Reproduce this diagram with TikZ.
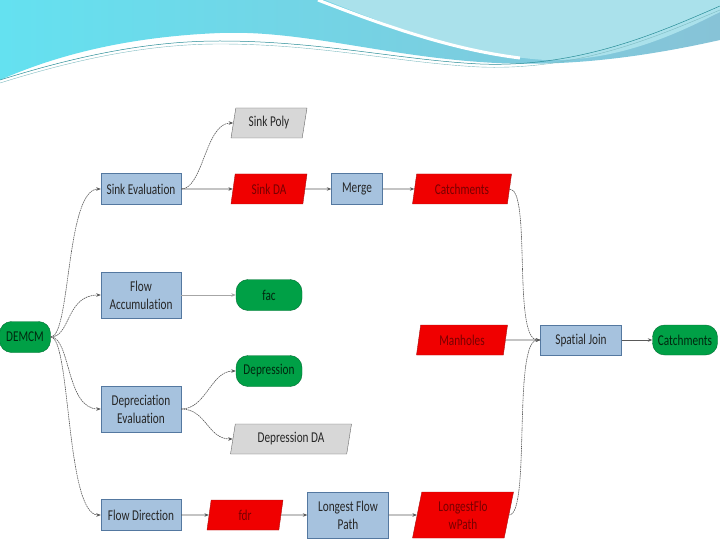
\documentclass[tikz,border=0pt]{standalone}
\usepackage{fontspec}
\setmainfont{Carlito}[FakeStretch=0.75,Ligatures=NoCommon]
\usepackage{tikz}
\usetikzlibrary{arrows.meta,positioning,shapes.geometric}
\definecolor{procfill}{RGB}{166,194,222}
\definecolor{procline}{RGB}{84,120,160}
\definecolor{redfill}{RGB}{240,0,0}
\definecolor{redline}{RGB}{170,20,20}
\definecolor{redtext}{RGB}{120,0,0}
\definecolor{grnfill}{RGB}{0,160,70}
\definecolor{grnline}{RGB}{0,110,50}
\definecolor{grnfont}{RGB}{0,40,15}
\definecolor{grayfill}{RGB}{215,215,215}
\definecolor{wavecyan}{RGB}{100,225,240}
\definecolor{waveblue}{RGB}{135,195,215}
\definecolor{wavelight}{RGB}{170,225,235}
\definecolor{waveline}{RGB}{40,140,150}

\begin{document}
\begin{tikzpicture}[x=1pt,y=-1pt,font=\fontsize{15}{18}\selectfont,
proc/.style={draw=procline,fill=procfill,align=center,minimum width=80pt,minimum height=31pt,inner sep=2pt,text=black!85},
dred/.style={trapezium,trapezium left angle=74,trapezium right angle=106,trapezium stretches body,draw=redline,fill=redfill,text=redtext,align=center,minimum height=30pt,inner sep=2pt},
dgray/.style={dred,draw=black!60,fill=grayfill,text=black!85},
term/.style={draw=grnline,fill=grnfill,text=grnfont,rounded corners=12pt,minimum width=66pt,minimum height=31pt,inner sep=2pt},
arr/.style={-{Stealth[length=4.5pt,width=3.5pt]},draw=black!65,line width=0.6pt},
carr/.style={arr,dash pattern=on 1.6pt off 0.7pt}]
\useasboundingbox (0,0) rectangle (720,540);
% slide background wave
\shade[left color=wavecyan,right color=waveblue] (0,0) -- (720,0) -- (720,40)
  .. controls (640,58) and (560,68) .. (480,62) .. controls (380,55) and (300,30) .. (220,33)
  .. controls (120,37) and (50,58) .. (0,80) -- cycle;
\fill[wavelight] (325,0) .. controls (400,30) and (470,55) .. (545,60)
  .. controls (620,62) and (680,32) .. (720,12) -- (720,0) -- cycle;
\draw[white,line width=3pt] (318,0) .. controls (390,28) and (455,50) .. (520,58);
\draw[waveline,line width=0.5pt] (0,80) .. controls (80,55) and (150,41) .. (220,41)
  .. controls (320,41) and (400,60) .. (480,64) .. controls (580,68) and (660,32) .. (720,6);
\draw[waveline!60,line width=0.4pt] (0,83) .. controls (80,58) and (150,44) .. (220,44)
  .. controls (320,44) and (400,63) .. (480,67) .. controls (580,71) and (660,35) .. (720,10);
% nodes
\node[term,minimum width=51pt] (demcm) at (25,337) {DEMCM};
\node[proc] (sinkeval) at (141,189) {Sink Evaluation};
\node[proc,minimum height=46pt] (flowacc) at (141,295) {Flow\\Accumulation};
\node[proc,minimum height=46pt] (depreval) at (141,409) {Depreciation\\Evaluation};
\node[proc] (flowdir) at (141,515) {Flow Direction};
\node[dgray,minimum width=76pt] (sinkpoly) at (269,123) {Sink Poly};
\node[dred,minimum width=76pt] (sinkda) at (269,189) {Sink DA};
\node[proc,minimum width=51pt] (merge) at (357,189) {Merge};
\node[dred,minimum width=99pt] (catchr) at (462,189) {Catchments};
\node[term] (fac) at (269,295) {fac};
\node[term] (depression) at (269,371) {Depression};
\node[dgray,minimum width=121pt] (deprda) at (291,439) {Depression DA};
\node[dred,minimum width=76pt] (fdr) at (245,515) {fdr};
\node[proc,minimum width=81pt,minimum height=46pt] (lfp) at (348,515) {Longest Flow\\Path};
\node[dred,minimum width=101pt,minimum height=46pt] (lfpr) at (463,515) {LongestFlo\\wPath};
\node[dred,minimum width=91pt] (manholes) at (462,340) {Manholes};
\node[proc,minimum width=81pt,minimum height=30pt] (spjoin) at (581,340) {Spatial Join};
\node[term,minimum width=65pt,minimum height=30pt] (catchg) at (685,340) {Catchments};
% connectors
\foreach \t in {sinkeval,flowacc,depreval,flowdir}
  \draw[carr] (demcm.east) .. controls +(20,0) and +(-35,0) .. (\t.west);
\draw[carr] (sinkeval.east) .. controls +(22,0) and +(-28,0) .. (sinkpoly.west);
\draw[arr] (sinkeval) -- (sinkda);
\draw[arr] (sinkda) -- (merge);
\draw[arr] (merge) -- (catchr);
\draw[arr,draw=black!35] (flowacc) -- (fac);
\draw[carr] (depreval.east) .. controls +(25,0) and +(-25,0) .. (depression.west);
\draw[carr] (depreval.east) .. controls +(25,0) and +(-25,0) .. (deprda.west);
\draw[arr] (flowdir) -- (fdr);
\draw[arr] (fdr) -- (lfp);
\draw[arr] (lfp) -- (lfpr);
\draw[carr] (catchr.east) .. controls +(22,0) and +(-28,0) .. (spjoin.west);
\draw[carr] (lfpr.east) .. controls +(22,0) and +(-28,0) .. (spjoin.west);
\draw[arr] (manholes) -- (spjoin);
\draw[arr] (spjoin) -- (catchg);
\end{tikzpicture}
\end{document}
